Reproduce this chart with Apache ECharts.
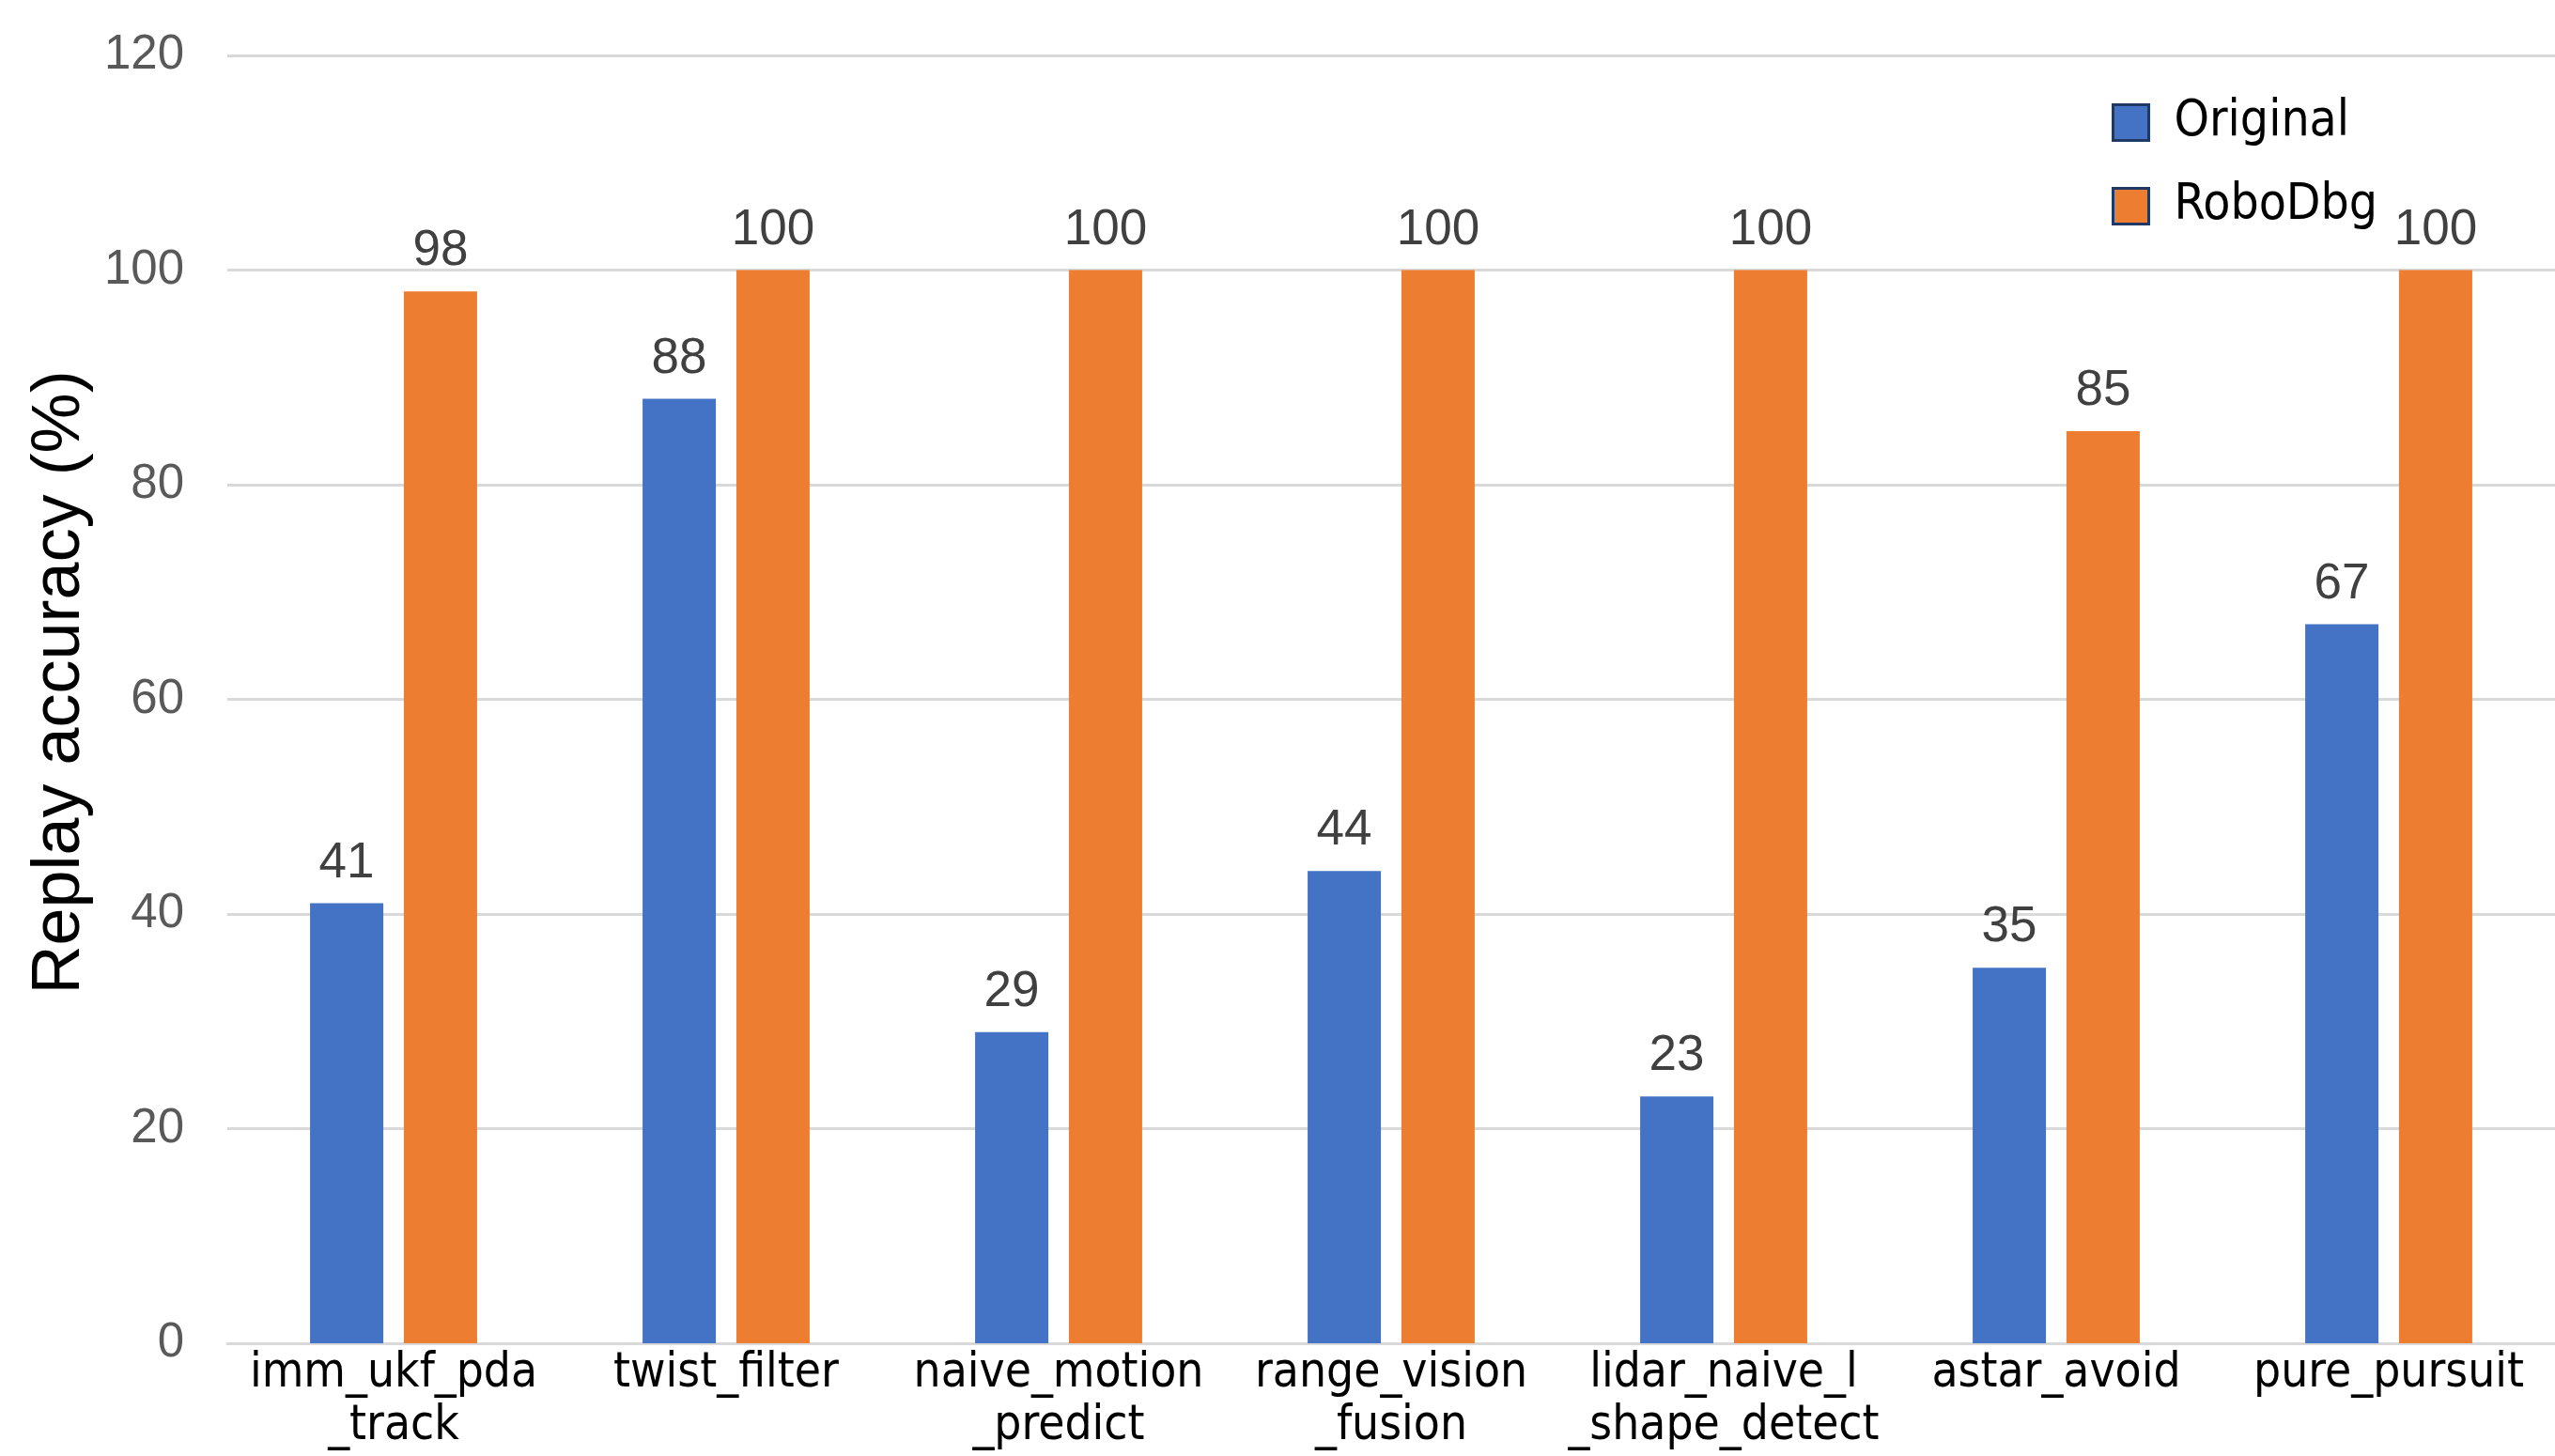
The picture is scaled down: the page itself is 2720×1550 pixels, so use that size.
<!DOCTYPE html>
<html>
<head>
<meta charset="utf-8">
<script src="https://cdn.jsdelivr.net/npm/echarts@6/dist/echarts.min.js"></script>
<style>
html,body{margin:0;padding:0;background:#fff;}
#chart{width:2720px;height:1550px;}
</style>
</head>
<body>
<div id="chart"></div>
<script>
const categories = [
  "imm_ukf_pda\n_track",
  "twist_filter",
  "naive_motion\n_predict",
  "range_vision\n_fusion",
  "lidar_naive_l\n_shape_detect",
  "astar_avoid",
  "pure_pursuit"
];
const originalValues = [41, 88, 29, 44, 23, 35, 67];
const robodbgValues = [98, 100, 100, 100, 100, 85, 100];
const seriesNames = ["Original", "RoboDbg"];
const yTicks = { min: 0, max: 120, interval: 20 };
const yTitle = "Replay accuracy (%)";

const chart = echarts.init(document.getElementById('chart'), null, {renderer: 'canvas'});

const labelStyle = {
  show: true,
  position: 'top',
  distance: 16,
  fontFamily: 'Liberation Sans',
  fontSize: 53,
  color: '#404040'
};

chart.setOption({
  animation: false,
  backgroundColor: '#ffffff',
  grid: { left: 242, right: 0, top: 59, bottom: 120, containLabel: false, outerBoundsMode: 'none' },
  legend: {
    orient: 'vertical',
    left: 2248,
    top: 104,
    padding: 0,
    itemWidth: 38,
    itemHeight: 38,
    itemGap: 36,
    icon: 'rect',
    itemStyle: { borderColor: '#1f3864', borderWidth: 3 },
    textStyle: {
      fontFamily: 'DejaVu Sans Condensed',
      fontSize: 53,
      color: '#000000',
      padding: [20, 0, 0, 22]
    },
    data: seriesNames
  },
  xAxis: {
    type: 'category',
    data: categories,
    axisTick: { show: false },
    axisLine: { show: true, lineStyle: { color: '#d9d9d9', width: 3 } },
    axisLabel: {
      interval: 0,
      margin: 5,
      fontFamily: 'DejaVu Sans Condensed',
      fontSize: 51,
      lineHeight: 56,
      color: '#000000',
      verticalAlign: 'top'
    }
  },
  yAxis: {
    type: 'value',
    min: yTicks.min,
    max: yTicks.max,
    interval: yTicks.interval,
    name: yTitle,
    nameLocation: 'middle',
    nameGap: 136,
    nameTextStyle: {
      fontFamily: 'Liberation Sans',
      fontSize: 72,
      color: '#000000',
      padding: [0, 0, 0, 36]
    },
    axisLine: { show: false },
    axisTick: { show: false },
    axisLabel: {
      margin: 46,
      fontFamily: 'Liberation Sans',
      fontSize: 51,
      color: '#595959'
    },
    splitLine: { lineStyle: { color: '#d9d9d9', width: 3 } }
  },
  series: [
    {
      name: seriesNames[0],
      type: 'bar',
      data: originalValues,
      barWidth: 78,
      barGap: '28%',
      itemStyle: { color: '#4472c4' },
      label: labelStyle
    },
    {
      name: seriesNames[1],
      type: 'bar',
      data: robodbgValues,
      barWidth: 78,
      barGap: '28%',
      itemStyle: { color: '#ed7d31' },
      label: labelStyle
    }
  ]
});
</script>
</body>
</html>
